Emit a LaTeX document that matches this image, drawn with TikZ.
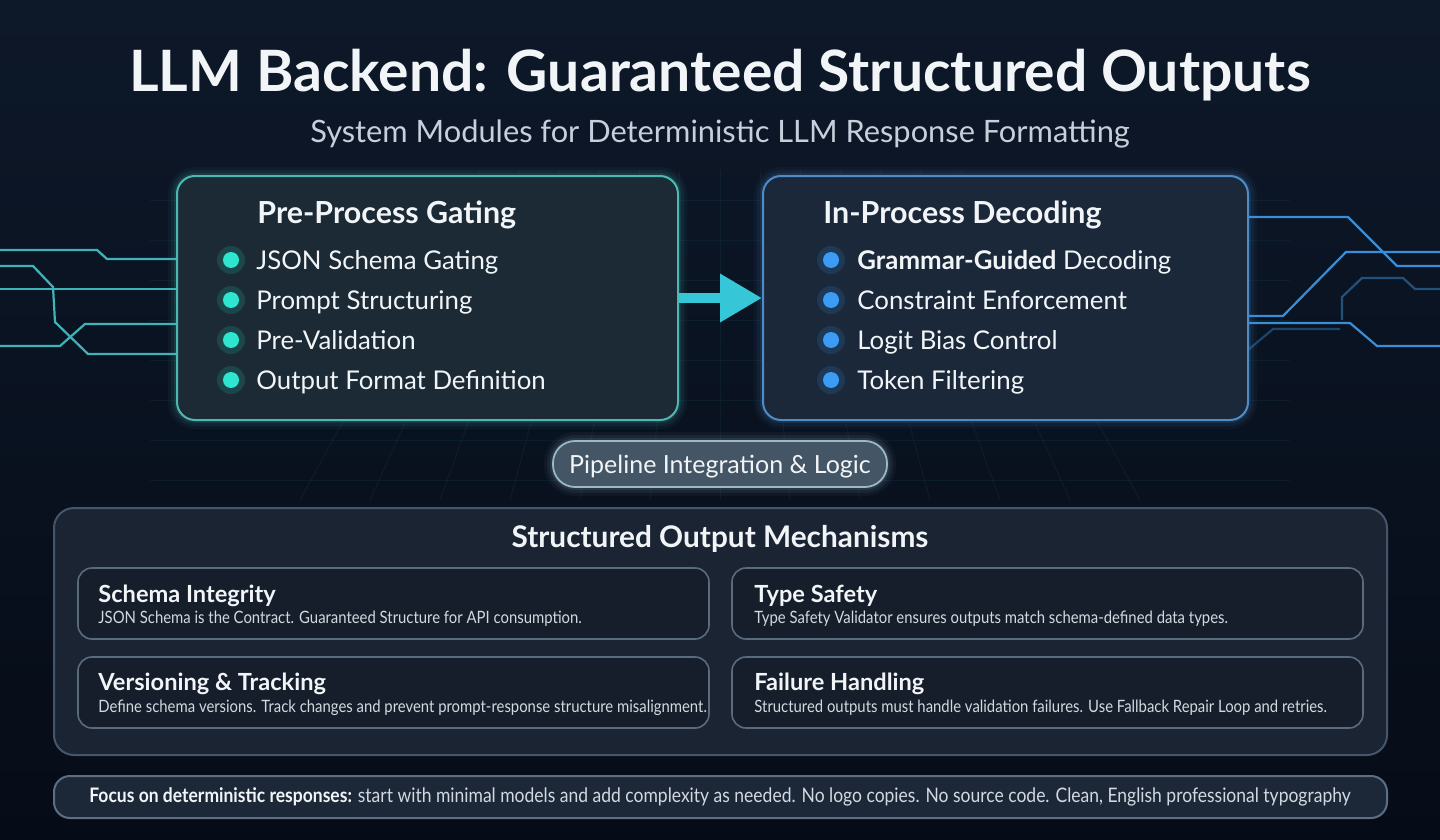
\documentclass[tikz,border=0pt]{standalone}
\usepackage{fontspec}
\setmainfont{Lato}
\newfontfamily\condfont[FakeStretch=0.875]{Lato}
\usetikzlibrary{arrows.meta,calc}
\definecolor{bgtop}{HTML}{0D1829}
\definecolor{bgbot}{HTML}{060C17}
\definecolor{tealb}{HTML}{4DB8B2}
\definecolor{blueb}{HTML}{4F8CC6}
\definecolor{leftfill}{HTML}{1B2A35}
\definecolor{rightfill}{HTML}{1A283A}
\definecolor{tealdot}{HTML}{2EE6CF}
\definecolor{bluedot}{HTML}{3B9CF5}
\definecolor{arrowc}{HTML}{35C6D8}
\definecolor{pillfill}{HTML}{445665}
\definecolor{pillb}{HTML}{9AB8C8}
\definecolor{bigfill}{HTML}{1B2432}
\definecolor{bigb}{HTML}{45566C}
\definecolor{cardfill}{HTML}{161E2B}
\definecolor{cardb}{HTML}{5A6B7E}
\definecolor{footfill}{HTML}{1C2738}
\definecolor{footb}{HTML}{5C6E84}
\definecolor{txt}{HTML}{F2F5F8}
\definecolor{subtxt}{HTML}{C5D0DA}
\definecolor{desctxt}{HTML}{D3D9E0}
\definecolor{circT}{HTML}{3FB3B8}
\definecolor{circB}{HTML}{3A8ED6}
\begin{document}
\begin{tikzpicture}[x=0.5pt,y=-0.5pt,
  panel/.style={rounded corners=9pt, line width=1pt, inner sep=0pt},
  txtnode/.style={text=txt, inner sep=0pt},
  boxtitle/.style={txtnode, anchor=base west, font=\fontsize{15.2}{18}\selectfont\bfseries},
  item/.style={txtnode, anchor=base west, font=\fontsize{12.9}{16}\selectfont},
  cardtitle/.style={txtnode, anchor=base west, font=\fontsize{11.8}{14}\selectfont\bfseries},
  carddesc/.style={inner sep=0pt, text=desctxt, anchor=base west, font=\condfont\fontsize{8.5}{10}\selectfont},
  card/.style={panel, rounded corners=7pt, draw=cardb, fill=cardfill, line width=0.8pt, minimum width=315.5pt, minimum height=35.5pt},
  circT/.style={draw=circT, line width=1.1pt},
  circB/.style={draw=circB, line width=1.1pt},
  tdot/.style={circle, fill=tealdot, inner sep=0pt, minimum size=8pt},
  bdot/.style={circle, fill=bluedot, inner sep=0pt, minimum size=8pt}
]
\useasboundingbox (0,0) rectangle (1440,840);
\shade[top color=bgtop, bottom color=bgbot] (0,0) rectangle (1440,840);

% faint perspective grid
\begin{scope}[draw=circT, opacity=0.07, line width=0.5pt]
  \foreach \y in {200,240,280,320,360,400,440,480} \draw (150,\y) -- (1290,\y);
  \foreach \x in {-6,...,6} \draw (720+\x*40,170) -- (720+\x*70,500);
\end{scope}

% left circuit lines
\begin{scope}[circT]
  \draw (0,250) -- (97,250) -- (107,259) -- (177,259);
  \draw (0,266) -- (33,266) -- (53,287) -- (55,322) -- (88,354) -- (177,354);
  \draw (0,289) -- (177,289);
  \draw (0,346) -- (60,346) -- (85,324) -- (177,324);
\end{scope}
% right circuit lines
\begin{scope}[circB]
  \draw (1248,217) -- (1348,217) -- (1397,266) -- (1440,266);
  \draw (1248,316) -- (1283,316) -- (1346,252) -- (1440,252);
  \draw (1248,323) -- (1350,323) -- (1377,346) -- (1440,346);
  \draw[opacity=0.5] (1342,320) -- (1342,297) -- (1362,278) -- (1403,278) -- (1415,289) -- (1440,289);
  \draw[opacity=0.4] (1248,350) -- (1273,329) -- (1340,329);
\end{scope}

% titles
\node[txtnode, anchor=base, font=\fontsize{28.5}{34}\selectfont\bfseries] (title) at (720,92) {LLM Backend: Guaranteed Structured Outputs};
\node[inner sep=0pt, text=subtxt, anchor=base, font=\fontsize{15.4}{18}\selectfont] (subtitle) at (720,142) {System Modules for Deterministic LLM Response Formatting};

% glows
\foreach \w/\o in {9/0.05,6/0.08,3/0.12}{
  \draw[tealb, line width=\w pt, opacity=\o, rounded corners=9pt] (177,176) rectangle (678,420);
  \draw[blueb, line width=\w pt, opacity=\o, rounded corners=9pt] (763,176) rectangle (1248,420);
  \draw[pillb, line width=\w pt, opacity=\o, rounded corners=11pt] (553,441) rectangle (887,487);
}

% top panels
\node[panel, draw=tealb, fill=leftfill, minimum width=250.5pt, minimum height=122pt] (pre) at (427.5,298) {};
\node[panel, draw=blueb, fill=rightfill, minimum width=242.5pt, minimum height=122pt] (inproc) at (1005.5,298) {};

\node[boxtitle] (pret) at (257,223) {Pre-Process Gating};
\node[boxtitle] (inpt) at (823,223) {In-Process Decoding};

\foreach \t [count=\i] in {JSON Schema Gating, Prompt Structuring, Pre-Validation, Output Format Definition}{
  \fill[tealdot, opacity=0.15] (231,220+40*\i) circle (7pt);
  \node[tdot] (pd\i) at (231,220+40*\i) {};
  \node[item] (pi\i) at (256,229+40*\i) {\t};
}
\foreach \t [count=\i] in {{\textbf{Grammar-Guided} Decoding}, Constraint Enforcement, Logit Bias Control, Token Filtering}{
  \fill[bluedot, opacity=0.15] (831,220+40*\i) circle (7pt);
  \node[bdot] (id\i) at (831,220+40*\i) {};
  \node[item] (ii\i) at (857,229+40*\i) {\t};
}

% arrow
\draw[arrowc, line width=5pt, -{Triangle[length=21pt,width=23pt]}] (pre.east) -- (inproc.west);

% pipeline pill
\node[panel, rounded corners=11pt, draw=pillb, fill=pillfill, line width=0.9pt, minimum width=167pt, minimum height=23pt] (pipe) at (720,464) {};
\node[txtnode, anchor=base, font=\fontsize{12.5}{15}\selectfont] (pipet) at (720,473) {Pipeline Integration \& Logic};

% mechanisms panel
\node[panel, rounded corners=10pt, draw=bigb, fill=bigfill, minimum width=666.5pt, minimum height=123.5pt] (mech) at (720.5,631.5) {};
\node[txtnode, anchor=base, font=\fontsize{14.9}{17}\selectfont\bfseries] (mecht) at (720,547) {Structured Output Mechanisms};

\node[card] (c1) at (393.5,603.5) {};
\node[card] (c2) at (1047.5,603.5) {};
\node[card] (c3) at (393.5,692.5) {};
\node[card] (c4) at (1047.5,692.5) {};

\node[cardtitle] (c1t) at (98,602) {Schema Integrity};
\node[carddesc] (c1d) at (98,623) {JSON Schema is the Contract. Guaranteed Structure for API consumption.};
\node[cardtitle] (c2t) at (754,602) {Type Safety};
\node[carddesc] (c2d) at (754,623) {Type Safety Validator ensures outputs match schema-defined data types.};
\node[cardtitle] (c3t) at (98,690) {Versioning \& Tracking};
\node[carddesc] (c3d) at (98,712) {Define schema versions. Track changes and prevent prompt-response structure misalignment.};
\node[cardtitle] (c4t) at (754,690) {Failure Handling};
\node[carddesc] (c4d) at (754,712) {Structured outputs must handle validation failures. Use Fallback Repair Loop and retries.};

% footer
\node[panel, rounded corners=8pt, draw=footb, fill=footfill, minimum width=666.5pt, minimum height=21pt] (foot) at (720.5,797) {};
\node[inner sep=0pt, text=desctxt, anchor=base, font=\condfont\fontsize{10}{12}\selectfont] (foott) at (720,802) {\textbf{\color{txt}Focus on deterministic responses:} start with minimal models and add complexity as needed. No logo copies. No source code. Clean, English professional typography};
\end{tikzpicture}
\end{document}
